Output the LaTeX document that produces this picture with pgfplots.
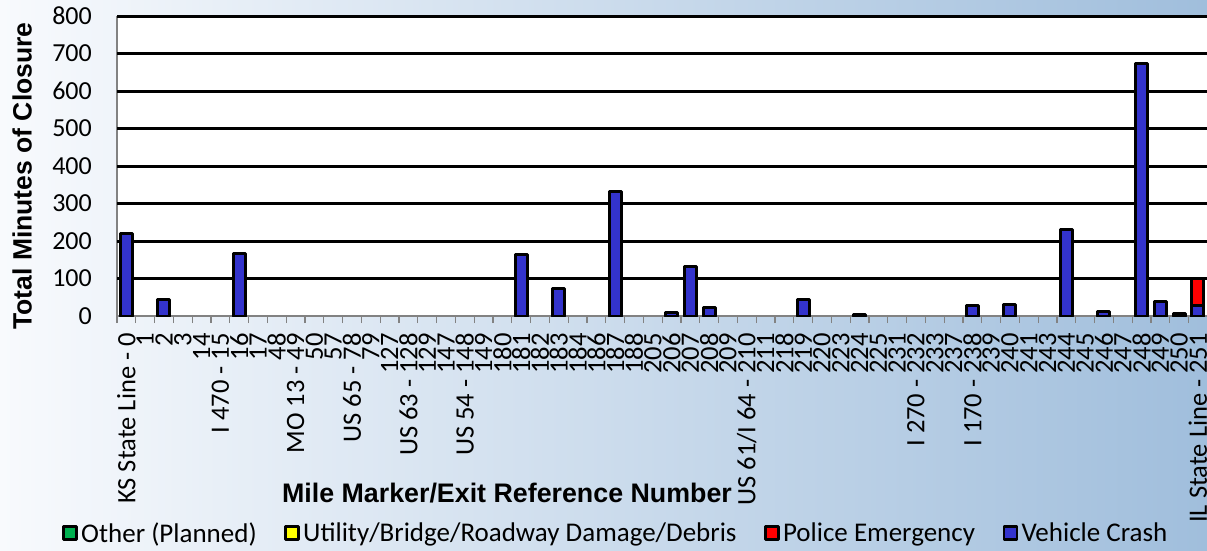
\documentclass[border=0pt]{standalone}
\usepackage{fontspec}
\setmainfont{Carlito}
\newfontfamily\arialb{Liberation Sans}
\usepackage{pgfplots}
\pgfplotsset{compat=1.18}
\definecolor{vcblue}{RGB}{51,51,204}
\definecolor{pered}{RGB}{255,0,0}
\definecolor{utyellow}{RGB}{255,255,0}
\definecolor{otgreen}{RGB}{0,176,80}
\definecolor{bgL}{RGB}{248,250,253}
\definecolor{bgR}{RGB}{160,190,220}
\definecolor{axgray}{RGB}{130,130,130}
\begin{document}
\begin{tikzpicture}[x=1pt,y=1pt]
\useasboundingbox (0,0) rectangle (1207,550);
\clip (0,0) rectangle (1207,550);
\shade[left color=bgL, right color=bgR] (0,0) rectangle (1207,550);
\begin{axis}[
  at={(117pt,234pt)}, anchor=south west,
  scale only axis, width=1090.4pt, height=300pt,
  xmin=-0.5, xmax=57.5, ymin=0, ymax=800,
  axis background/.style={fill=white},
  axis x line*=bottom, axis y line*=left,
  axis line style={draw=axgray, line width=1.5pt},
  tick pos=left, tick align=outside,
  major tick length=0pt, minor tick length=7pt,
  minor tick style={draw=axgray, line width=1.2pt},
  xtick={0,...,57},
  minor xtick={-0.5,0.5,...,57.5},
  xticklabels={KS State Line - 0, 1, 2, 3, 14, I 470 - 15, 16, 17, 48, MO 13 - 49, 50, 57, US 65 - 78, 79, 127, US 63 - 128, 129, 147, US 54 - 148, 149, 180, 181, 182, 183, 184, 186, 187, 188, 205, 206, 207, 208, 209, US 61/I 64 - 210, 211, 218, 219, 220, 223, 224, 225, 231, I 270 - 232, 233, 237, I 170 - 238, 239, 240, 241, 243, 244, 245, 246, 247, 248, 249, 250, IL State Line - 251},
  xticklabel style={yshift=-17pt, rotate=90, anchor=east, inner sep=0pt, font=\fontsize{26.5}{28}\selectfont},
  ytick={0,100,...,800},
  yticklabel style={anchor=east, inner sep=0pt, xshift=-25pt, font=\fontsize{26}{28}\selectfont},
  /pgf/number format/assume math mode=true,
  extra y ticks={100,200,...,800},
  extra y tick labels={},
  extra y tick style={ymajorgrids=true, major grid style={draw=black, line width=3pt}},
  xlabel={Mile Marker/Exit Reference Number},
  xlabel style={at={(axis description cs:0.3577,-0.59)}, anchor=center, font=\arialb\bfseries\fontsize{26.8}{30}\selectfont},
  ylabel={Total Minutes of Closure},
  ylabel style={at={(axis description cs:-0.0871,0.4667)}, anchor=center, font=\arialb\bfseries\fontsize{26.5}{30}\selectfont},
  legend columns=4,
  legend style={at={(axis description cs:-0.0504,-0.7233)}, anchor=west, draw=none, fill=none, inner sep=0pt,
    font=\fontsize{27}{30}\selectfont, nodes={inner sep=3.5pt},
    /tikz/every even column/.append style={column sep=24pt}},
  legend cell align=left,
]
\addlegendimage{legend image code/.code={\draw[fill=otgreen, draw=black, line width=2.5pt, line join=round] (0pt,-6.5pt) rectangle (13pt,6.5pt);}}
\addlegendentry{Other (Planned)}
\addlegendimage{legend image code/.code={\draw[fill=utyellow, draw=black, line width=2.5pt, line join=round] (0pt,-6.5pt) rectangle (13pt,6.5pt);}}
\addlegendentry{Utility/Bridge/Roadway Damage/Debris}
\addlegendimage{legend image code/.code={\draw[fill=pered, draw=black, line width=2.5pt, line join=round] (0pt,-6.5pt) rectangle (13pt,6.5pt);}}
\addlegendentry{Police Emergency}
\addlegendimage{legend image code/.code={\draw[fill=vcblue, draw=black, line width=2.5pt, line join=round] (0pt,-6.5pt) rectangle (13pt,6.5pt);}}
\addlegendentry{Vehicle Crash}
% Police Emergency (72) stacked on Vehicle Crash (28): cumulative top = 100
\addplot[forget plot, ybar, bar width=12pt, bar shift=0pt, fill=pered, draw=black, line width=3pt, line join=round]
  coordinates {(57,100)};
% Vehicle Crash
\addplot[forget plot, ybar, bar width=12pt, bar shift=0pt, fill=vcblue, draw=black, line width=3pt, line join=round]
  coordinates {(0,220) (2,43) (6,167) (21,163) (23,74) (26,332) (29,9) (30,133) (31,23) (36,45) (39,4) (45,27) (47,31) (50,231) (52,11) (54,674) (55,40) (56,8) (57,28)};
\end{axis}
\end{tikzpicture}
\end{document}
